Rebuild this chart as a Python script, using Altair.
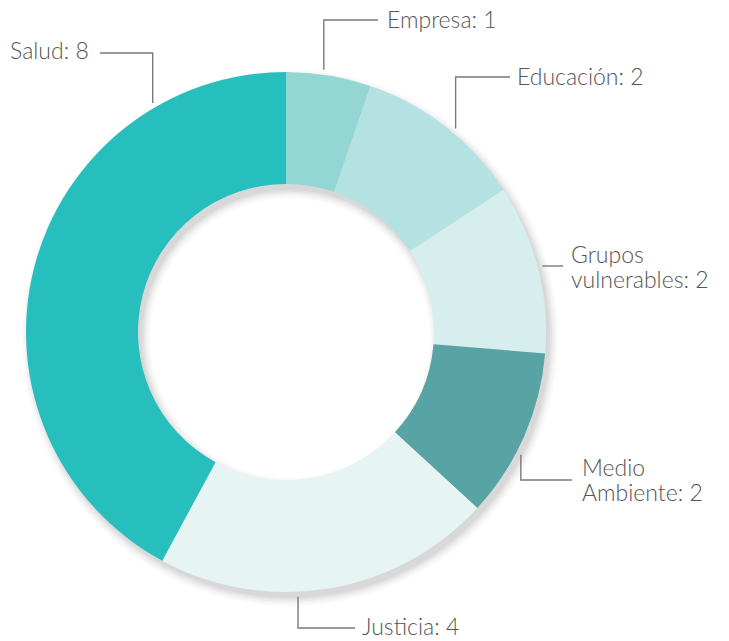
import math
import altair as alt
import pandas as pd

# ---- data ----
categories = ["Empresa", "Educación", "Grupos vulnerables", "Medio Ambiente", "Justicia", "Salud"]
values = [1, 2, 2, 2, 4, 8]
colors = ["#93d6d4", "#b4e1e1", "#d7eeee", "#58a3a3", "#e7f4f4", "#27bfbd"]
label_text = ["Empresa: 1", "Educación: 2", "Grupos\nvulnerables: 2", "Medio\nAmbiente: 2", "Justicia: 4", "Salud: 8"]

# ---- layout (page pixel coordinates) ----
W, H = 713, 633
CX, CY = 286, 332
R_OUT, R_IN = 260, 148
label_x = [387, 517, 571, 582, 362, 10]
label_y = [21, 78, 256, 469, 628, 52]
anchor_deg = [8.2, 39.8, 75.3, 117.6, 177.4, 329.8]   # where each leader touches the ring
leader_end_x = [378, 510, 563, 572, 355, 100]          # label end of each leader
leader_y = [20, 77, 266, 480, 628, 53]
ANCHOR_R = 265

df = pd.DataFrame({"cat": categories, "value": values, "idx": list(range(len(values)))})

# leader polylines
rows = []
for i, c in enumerate(categories):
    a = math.radians(anchor_deg[i])
    ax = CX + ANCHOR_R * math.sin(a)
    ay = CY - ANCHOR_R * math.cos(a)
    if abs(ay - leader_y[i]) < 8:  # horizontal only
        pts = [(ax, leader_y[i]), (leader_end_x[i], leader_y[i])]
    else:
        pts = [(ax, ay), (ax, leader_y[i]), (leader_end_x[i], leader_y[i])]
    for k, (px, py) in enumerate(pts):
        rows.append({"cat": c, "k": k, "px": px, "py": py})
leaders = pd.DataFrame(rows)

labels = pd.DataFrame({"cat": categories, "text": label_text, "lx": label_x, "ly": label_y})

xs = alt.Scale(domain=[8, 8 + W], range=[0, W])
ys = alt.Scale(domain=[8, 8 + H], range=[0, H])

# soft shadow rings
shadow_layers = []
one = pd.DataFrame({"a": [0]})
for s, op in [(8, 0.02), (6, 0.025), (4, 0.03), (2, 0.04), (0, 0.045)]:
    shadow_layers.append(
        alt.Chart(one).mark_arc(
            theta=0, theta2=2 * math.pi,
            outerRadius=R_OUT + s, innerRadius=max(R_IN - s, 0),
            color="#000000", opacity=op,
        ).encode(x=alt.value(CX - 8 + 4), y=alt.value(CY - 8 + 6))
    )

donut = alt.Chart(df).mark_arc(outerRadius=R_OUT, innerRadius=R_IN, stroke=None).encode(
    theta=alt.Theta("value:Q", stack=True),
    order=alt.Order("idx:Q"),
    color=alt.Color("cat:N", scale=alt.Scale(domain=categories, range=colors), legend=None),
    x=alt.value(CX - 8),
    y=alt.value(CY - 8),
)

lines = alt.Chart(leaders).mark_line(color="#7a7a7a", strokeWidth=1.4).encode(
    x=alt.X("px:Q", scale=xs, axis=None),
    y=alt.Y("py:Q", scale=ys, axis=None),
    detail="cat:N",
    order="k:Q",
)

texts = alt.Chart(labels).mark_text(
    align="left", baseline="middle", font="Lato", fontWeight=300,
    fontSize=23, color="#555555", lineBreak="\n", lineHeight=25,
).encode(
    x=alt.X("lx:Q", scale=xs, axis=None),
    y=alt.Y("ly:Q", scale=ys, axis=None),
    text="text:N",
)

chart = alt.layer(*shadow_layers, donut, lines, texts).properties(
    width=W, height=H, padding=0, autosize=alt.AutoSizeParams(type="none")
).configure_view(stroke=None)

chart.save("out.html", embed_options={"renderer": "svg", "actions": False})
